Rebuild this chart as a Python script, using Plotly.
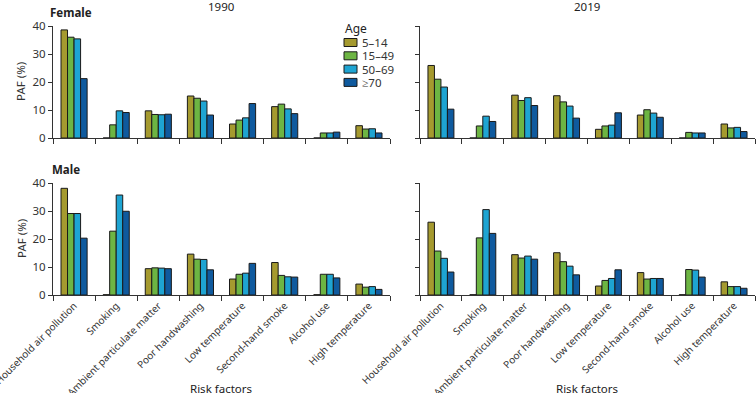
import plotly.graph_objects as go

categories = ["Household air pollution", "Smoking", "Ambient particulate matter",
              "Poor handwashing", "Low temperature", "Second-hand smoke",
              "Alcohol use", "High temperature"]
age_groups = ["5–14", "15–49", "50–69", "≥70"]

# Female 1990
f1990_5_14 = [38.6, 0, 9.7, 15.0, 5.0, 11.2, 0, 4.4]
f1990_15_49 = [36.0, 4.7, 8.4, 14.2, 6.4, 12.1, 1.8, 3.2]
f1990_50_69 = [35.4, 9.7, 8.3, 13.2, 7.2, 10.4, 1.8, 3.3]
f1990_70 = [21.2, 9.1, 8.5, 8.2, 12.3, 8.7, 2.1, 1.8]
# Female 2019
f2019_5_14 = [25.9, 0, 15.3, 15.1, 3.1, 8.2, 0, 5.0]
f2019_15_49 = [21.0, 4.3, 13.4, 12.9, 4.3, 10.1, 2.0, 3.6]
f2019_50_69 = [18.2, 7.8, 14.4, 11.4, 4.6, 8.9, 1.8, 3.8]
f2019_70 = [10.3, 5.9, 11.6, 7.1, 9.0, 7.4, 1.8, 2.3]
# Male 1990
m1990_5_14 = [38.1, 0.1, 9.4, 14.6, 5.7, 11.6, 0.1, 3.9]
m1990_15_49 = [29.1, 22.8, 9.7, 12.8, 7.4, 7.0, 7.4, 2.8]
m1990_50_69 = [29.1, 35.7, 9.6, 12.7, 7.8, 6.5, 7.4, 3.0]
m1990_70 = [20.3, 29.9, 9.4, 9.0, 11.3, 6.4, 6.1, 2.0]
# Male 2019
m2019_5_14 = [26.0, 0.1, 14.4, 15.1, 3.2, 8.0, 0.1, 4.7]
m2019_15_49 = [15.7, 20.4, 13.2, 11.9, 5.2, 5.7, 9.1, 3.0]
m2019_50_69 = [13.1, 30.5, 13.9, 10.3, 5.9, 5.9, 8.9, 3.0]
m2019_70 = [8.2, 22.0, 12.8, 7.2, 9.0, 5.9, 6.4, 2.4]

colors = ["#a59a2f", "#6db543", "#1ea4d2", "#0f5a9e"]

panels = [
    ("x", "y", [f1990_5_14, f1990_15_49, f1990_50_69, f1990_70]),
    ("x2", "y2", [f2019_5_14, f2019_15_49, f2019_50_69, f2019_70]),
    ("x3", "y3", [m1990_5_14, m1990_15_49, m1990_50_69, m1990_70]),
    ("x4", "y4", [m2019_5_14, m2019_15_49, m2019_50_69, m2019_70]),
]

FONT = "Noto Sans"
TXT = "#333333"
W, H = 756, 393

fig = go.Figure()
for xa, ya, series in panels:
    for name, vals, col in zip(age_groups, series, colors):
        fig.add_trace(go.Bar(
            x=categories, y=vals, name=name, xaxis=xa, yaxis=ya,
            marker=dict(color=col, line=dict(color="#1a1a1a", width=1)),
            showlegend=False,
        ))

xd_left = [53 / W, 390 / W]
xd_right = [420 / W, 755 / W]
yd_top = [(H - 138) / H, (H - 26) / H]
yd_bot = [(H - 295) / H, (H - 183) / H]

def xaxis(domain, anchor, labels):
    return dict(domain=domain, anchor=anchor, type="category", tickson="boundaries",
                ticks="outside", ticklen=5, tickwidth=1, tickcolor="#333",
                showline=True, linecolor="#333", linewidth=1,
                showticklabels=labels, tickangle=-45, automargin=False,
                tickfont=dict(family=FONT, size=10, color=TXT),
                showgrid=False, zeroline=False)

def yaxis(domain, anchor, labels):
    return dict(domain=domain, anchor=anchor, range=[0, 40], tickvals=[0, 10, 20, 30, 40],
                ticks="outside", ticklen=4, tickwidth=1, tickcolor="#333",
                showline=True, linecolor="#333", linewidth=1, automargin=False,
                showticklabels=labels, tickfont=dict(family=FONT, size=11.5, color=TXT),
                showgrid=False, zeroline=False)

fig.update_layout(
    width=W, height=H,
    margin=dict(l=0, r=0, t=0, b=0, autoexpand=False),
    plot_bgcolor="white", paper_bgcolor="white",
    barmode="group", bargap=0.38, bargroupgap=0,
    font=dict(family=FONT, color=TXT),
    showlegend=False,
    xaxis=xaxis(xd_left, "y", False),
    yaxis=yaxis(yd_top, "x", True),
    xaxis2=xaxis(xd_right, "y2", False),
    yaxis2=yaxis(yd_top, "x2", False),
    xaxis3=xaxis(xd_left, "y3", True),
    yaxis3=yaxis(yd_bot, "x3", True),
    xaxis4=xaxis(xd_right, "y4", True),
    yaxis4=yaxis(yd_bot, "x4", False),
)

# Legend (drawn as key boxes + labels)
fig.add_annotation(text="Age", x=343 / W, y=1 - 29 / H, xref="paper", yref="paper",
                   xanchor="left", yanchor="middle", showarrow=False,
                   font=dict(family=FONT, size=12, color="#222"))
for i, (name, col) in enumerate(zip(age_groups, colors)):
    cy = 42.5 + i * 13.3
    fig.add_shape(type="rect", xref="paper", yref="paper",
                  x0=344 / W, x1=357 / W, y0=1 - (cy - 4) / H, y1=1 - (cy + 4) / H,
                  fillcolor=col, line=dict(color="#1a1a1a", width=1))
    fig.add_annotation(text=name, x=360 / W, y=1 - cy / H, xref="paper", yref="paper",
                       xanchor="left", yanchor="middle", showarrow=False,
                       font=dict(family=FONT, size=11.5, color=TXT))

ann = [
    dict(text="1990", x=221 / W, y=1 - 6 / H, bold=False),
    dict(text="2019", x=587 / W, y=1 - 6 / H, bold=False),
    dict(text="Female", x=71 / W, y=1 - 12 / H, bold=True),
    dict(text="Male", x=66 / W, y=1 - 169 / H, bold=True),
    dict(text="Risk factors", x=221 / W, y=1 - 388 / H, bold=False),
    dict(text="Risk factors", x=587 / W, y=1 - 388 / H, bold=False),
]
for a in ann:
    fig.add_annotation(text=("<b>%s</b>" % a["text"]) if a["bold"] else a["text"],
                       x=a["x"], y=a["y"], xref="paper", yref="paper",
                       xanchor="center", yanchor="middle", showarrow=False,
                       font=dict(family=FONT, size=11.5, color="#222"))
for yy in [82, 239]:
    fig.add_annotation(text="PAF (%)", x=21 / W, y=1 - yy / H, xref="paper", yref="paper",
                       textangle=-90, showarrow=False, xanchor="center", yanchor="middle",
                       font=dict(family=FONT, size=11.5, color=TXT))

fig.write_html("out.html", config={"displayModeBar": False},
               post_script="document.body.style.margin='0';document.body.style.overflow='hidden';")
